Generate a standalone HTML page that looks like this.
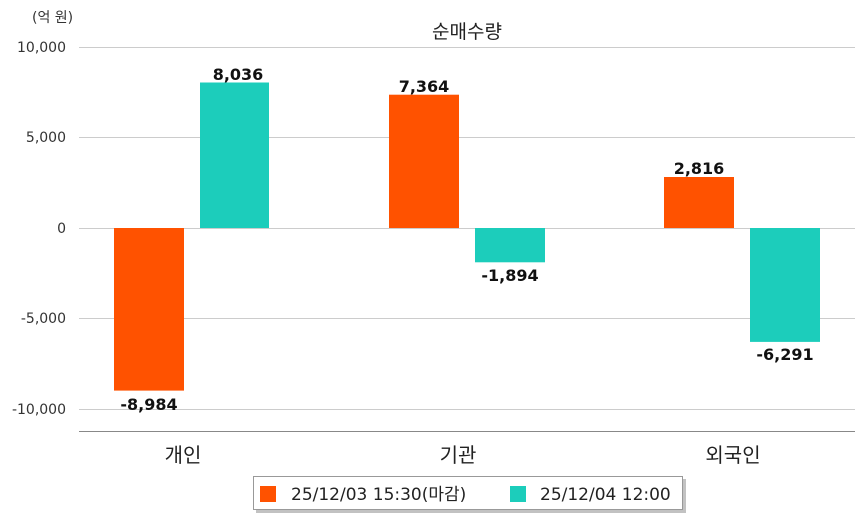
<!DOCTYPE html>
<html><head><meta charset="utf-8"><style>
body{margin:0;background:#fff;}
svg text{font-family:"DejaVu Sans","Noto Sans CJK KR",sans-serif;}
</style></head><body>
<svg width="863" height="520" xmlns="http://www.w3.org/2000/svg">
<rect width="863" height="520" fill="#fff"/>
<g stroke="#cccccc" stroke-width="1">
<line x1="79" y1="47.5" x2="855" y2="47.5"/>
<line x1="79" y1="137.5" x2="855" y2="137.5"/>
<line x1="79" y1="228.5" x2="855" y2="228.5"/>
<line x1="79" y1="318.5" x2="855" y2="318.5"/>
<line x1="79" y1="409.5" x2="855" y2="409.5"/>
</g>
<line x1="79" y1="431.5" x2="855" y2="431.5" stroke="#888" stroke-width="1"/>
<g font-size="14" fill="#333" text-anchor="end">
<text x="66" y="52">10,000</text>
<text x="66" y="142">5,000</text>
<text x="66" y="233">0</text>
<text x="66" y="323">-5,000</text>
<text x="66" y="414">-10,000</text>
</g>
<text x="32" y="22" font-size="14" fill="#333">(억 원)</text>
<text x="467" y="38" font-size="19" fill="#222" text-anchor="middle">순매수량</text>
<g fill="#ff5200">
<rect x="114" y="228" width="70" height="162.6"/>
<rect x="389" y="94.7" width="70" height="133.3"/>
<rect x="664" y="177" width="70" height="51"/>
</g>
<g fill="#1ccdbb">
<rect x="200" y="82.5" width="69" height="145.5"/>
<rect x="475" y="228" width="70" height="34.3"/>
<rect x="750" y="228" width="70" height="113.9"/>
</g>
<g font-size="16" font-weight="bold" fill="#111" text-anchor="middle">
<text x="149" y="410">-8,984</text>
<text x="238" y="80">8,036</text>
<text x="424" y="92">7,364</text>
<text x="510" y="281">-1,894</text>
<text x="699" y="174">2,816</text>
<text x="785" y="360">-6,291</text>
</g>
<g font-size="20" fill="#222" text-anchor="middle">
<text x="183" y="462">개인</text>
<text x="458" y="462">기관</text>
<text x="733" y="462">외국인</text>
</g>
<rect x="256" y="479" width="430" height="34" fill="#999" opacity="0.6"/>
<rect x="253.5" y="476.5" width="429" height="33" fill="#fff" stroke="#999"/>
<rect x="260" y="486" width="16" height="16" fill="#ff5200"/>
<text x="291" y="500" font-size="17" fill="#222">25/12/03 15:30(마감)</text>
<rect x="510" y="486" width="16" height="16" fill="#1ccdbb"/>
<text x="540" y="500" font-size="17" fill="#222">25/12/04 12:00</text>
</svg>
</body></html>
